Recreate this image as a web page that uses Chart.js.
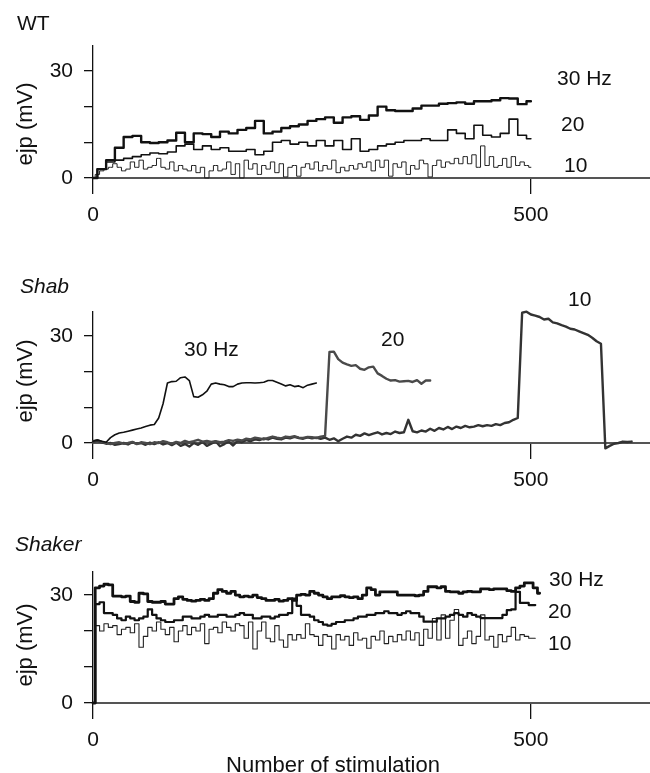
<!DOCTYPE html>
<html>
<head>
<meta charset="utf-8">
<script src="https://cdn.jsdelivr.net/npm/chart.js@4.4.0/dist/chart.umd.min.js"></script>
<style>
  body { margin: 0; background: #fff; width: 650px; height: 773px; position: relative; overflow: hidden;
         font-family: "Liberation Sans", Arial, sans-serif; color: #111; }
  canvas { position: absolute; left: 0; }
  .lbl { position: absolute; font-size: 21px; line-height: 1; white-space: nowrap; transform: translateY(-50%); }
  .it { font-style: italic; }
  .ytitle { position: absolute; font-size: 22px; line-height: 1; white-space: nowrap;
            transform: translate(-50%, -50%) rotate(-90deg); }
  .xtitle { position: absolute; font-size: 22px; line-height: 1; white-space: nowrap; transform: translate(-50%, -50%); }
</style>
</head>
<body>
<canvas id="wt-chart" style="top:16px"></canvas>
<canvas id="shab-chart" style="top:282px"></canvas>
<canvas id="shaker-chart" style="top:542px"></canvas>

<div class="lbl" style="left:17px;top:22px">WT</div>
<div class="lbl it" style="left:20px;top:285px">Shab</div>
<div class="lbl it" style="left:15px;top:543px">Shaker</div>

<div class="ytitle" style="left:25px;top:124px">ejp (mV)</div>
<div class="ytitle" style="left:25px;top:381px">ejp (mV)</div>
<div class="ytitle" style="left:25px;top:645px">ejp (mV)</div>
<div class="xtitle" style="left:333px;top:765px">Number of stimulation</div>

<div class="lbl" style="left:557px;top:77px">30 Hz</div>
<div class="lbl" style="left:561px;top:123px">20</div>
<div class="lbl" style="left:564px;top:164px">10</div>

<div class="lbl" style="left:184px;top:348px">30 Hz</div>
<div class="lbl" style="left:381px;top:338px">20</div>
<div class="lbl" style="left:568px;top:298px">10</div>

<div class="lbl" style="left:549px;top:578px">30 Hz</div>
<div class="lbl" style="left:548px;top:610px">20</div>
<div class="lbl" style="left:548px;top:642px">10</div>

<script>
// --- Axis settings ---
const X_MAX = 636;
const X_TICKS = [0, 500];
const Y_TICKS = [0, 10, 20, 30];
const Y_LABELED = [0, 30];
const FINE_STEP = 5;     // stimulations between samples
const COARSE_STEP = 10;

// --- Layout (px) ---
const TOP_PAD = 30;
const Y_AXIS_WIDTH = 93;
const X_AXIS_HEIGHT = 50;

// --- WT traces (ejp, mV) ---
const WT_30HZ = [0,2.5,5,8.5,11.5,11.8,10,9.8,10,10.5,12.7,
  10,12.5,12.3,11.5,13,12.5,13.5,14,16,12.5,
  13,14,14.5,15,16,16.5,17,15.5,17,17.3,
  16.3,17.5,20,19,18.8,18.8,19.5,20.3,20.3,20.8,
  21,21.2,20.8,21.5,21.5,21.8,22.4,22.3,20.7,21.5];
const WT_20HZ = [0,2.5,4.5,5,5.5,6,6.5,7,6.8,7.3,9,
  9.5,8,9,8,8.5,7.5,7.5,8,6.5,7.5,
  10,10.5,9.5,10,9,10.5,9,10.5,8,11,
  7.5,8,9,9.5,10,10.5,10.5,11,10.5,10.5,
  13.5,12.5,11,14.8,12,11.5,12.5,16.5,12,11];
const WT_10HZ = [0,1,2,2.5,3,4,3,2,2.5,4.5,
  3,5,2.5,3,3.5,5.5,3,2.5,4.5,2,
  3.5,2.5,2,3.5,1.5,3,0,2,3.5,2,
  2.5,4.5,1,4,0,5,2.5,4,1,3.5,
  2.5,4.5,1.5,4,0.3,3,3.5,0.5,3,4,
  2.5,4.5,2,3.5,2.5,5,1.5,3,2,3.5,
  2.5,4,3,4.5,2,5,3,5,0.5,4,
  3,4.5,1,3.5,2.5,5,4,0.3,3.5,5,
  3,4.5,4,5.5,4,6,4,6.5,3,9,
  3.5,6,3,3.5,5.5,3,6,3.5,4.5,3.5,
  3];

// --- Shab traces ---
const SHAB_30HZ = [0.5,0.8,0.5,0.2,1.5,2.3,2.8,3.0,3.3,3.6,3.9,
  4.2,4.6,5.0,5.2,7.0,11.0,16.8,17.2,17.3,18.3,
  18.5,17.5,13.0,12.8,13.5,14.5,16.5,16.8,16.5,16.3,
  15.8,15.8,16.5,16.8,16.9,16.9,16.8,16.9,17.0,17.5,
  17.5,17.0,16.5,16.0,16.3,15.8,16.0,15.5,16.2,16.5,
  16.8];
const SHAB_20HZ = [0.5,0.8,0.3,0,-0.3,0,0.2,-0.2,0,0.3,
  -0.3,0.2,0,-0.3,0.2,0,0.5,0.2,-0.2,0.3,
  0,0.6,0.2,0.5,0.9,0.4,0.6,0.3,0.5,0.2,
  0.4,0.8,0.6,0.9,0.7,1.2,1.0,1.5,1.3,1.0,
  1.4,1.8,1.5,1.3,1.8,1.6,1.9,1.5,1.4,1.7,
  1.6,1.4,1.8,2.0,25.5,25.6,23.5,22.5,22.0,21.6,
  21.8,20.8,20.5,21.2,21.4,19.5,18.8,18.0,17.5,17.6,
  17.2,17.3,17.4,17.1,17.6,16.6,17.5,17.5];
const SHAB_10HZ = [0.3,0.6,0.2,-0.2,0,-0.5,-0.3,0,-0.4,0.2,
  -0.2,0,-0.5,0.1,-0.3,0.2,-0.4,0,-0.6,0.1,
  -0.8,-0.3,-1.0,0,-0.5,0.3,-0.8,-0.2,0.5,-0.9,
  -0.3,0.4,-0.7,0.6,0.2,0.8,0.5,1.0,0.8,1.3,
  1.0,1.5,1.2,1.0,1.5,1.3,1.7,1.4,1.2,1.6,
  1.3,1.5,1.2,1.5,0.9,1.3,0.5,1.2,1.8,1.5,
  2.3,2.0,2.7,2.2,2.6,3.0,2.4,2.8,2.5,3.2,
  2.8,3.0,6.5,3.3,3.0,3.5,3.2,4.0,3.4,4.2,
  3.8,4.5,3.9,4.6,4.2,4.8,4.4,4.6,5.0,4.7,
  5.0,4.8,5.3,5.0,5.6,5.8,6.5,7.0,36.5,36.8,
  36.0,35.7,35.3,34.6,34.8,33.8,33.5,33.0,32.6,32.0,
  31.8,31.3,30.8,30.3,29.5,28.5,27.8,-1.5,-0.8,-0.2,
  0,0.4,0.3,0.4];

// --- Shaker traces ---
const SHAKER_30HZ = [0,32,32.5,33,32.8,29.7,29.7,29.5,29.7,28.2,
  28,30.5,30.3,28.2,28,28,28.2,27.5,27.5,29,
  29.5,28.8,28.5,28.3,28.5,28.8,28.5,29,30.5,31.5,
  31,30.5,31,30,29.5,29.7,29.5,30,29.3,29,
  28.5,28.5,28.8,28.3,28.5,29,28.5,30,30.2,30,
  31,30.5,30,29.5,29,29.5,29.5,29.8,29.5,29.3,
  29.5,29,30,32,31.5,30,30.9,30.9,30.9,30.9,
  30,30,30,30,29.8,30,31,32.3,32.3,32,
  32.3,31,30.9,30.9,30.5,30.9,31,30.9,30.9,31.7,
  31.7,31.5,31.7,31.7,31.7,31.2,31,32,32.5,33.4,
  33.4,32,30.5];
const SHAKER_20HZ = [0,27.5,28,25,25,24.5,23.5,23,24,23.5,
  23,23.5,24,26,24.5,23.5,23,22.5,22.5,23,
  23,24,24,23.5,23.5,24,24.5,24,24,24.5,
  24.5,24,24,24.5,25,24.5,24.5,23.5,23.5,24,
  24,23.5,24,24.5,24.5,25,29,27,24.5,24.5,
  24,23,22.5,21.8,21.5,22,22.5,22.5,23,23,
  23.5,24,24,24.5,24.5,25,25,25.5,25,25,
  24.5,25,25.5,25,25,24,22.6,22.6,22.6,23.5,
  23.5,24,24.5,25,24.5,24,25,24.5,24,23.6,
  23.6,23.6,23.6,23.6,24.5,25.8,26,30.9,27.8,27.8,
  27.2,27.2];
const SHAKER_10HZ = [0,21.5,20,22,21,21.5,19,20.5,21,19.5,
  22,15.5,18.5,21,20,22.5,20.5,19,21,17,
  20,21.5,19,21,20,22,16.5,20.5,21,19.5,
  22.5,21,20,22,21.5,18,22.5,15,20,22.5,
  18,17,21.5,17.5,15.5,19,17.5,19,18,22,
  19,18.5,16,19,18.5,15,19,17.5,18.5,16,
  19.5,17.5,18,15.2,18.5,17.5,20,16.5,18.5,17,
  19,17.5,20,17.5,19.5,16,20.5,18,23.5,17.5,
  24.5,18,23,26,16,18,20,16.5,18.5,24.5,
  17.5,18.5,15.5,19,17,18.5,21,17.5,19,18.5,
  18,18];

// --- Chart helpers ---
function toPoints(values, step) {
    return values.map((v, i) => ({ x: i * step, y: v }));
}

function makePanel(canvasId, yMax, plotHeight, traces) {
    const canvas = document.getElementById(canvasId);
    canvas.width = 650;
    canvas.height = TOP_PAD + plotHeight + X_AXIS_HEIGHT;
    const tickFont = { family: '"Liberation Sans", Arial, sans-serif', size: 21 };

    new Chart(canvas.getContext('2d'), {
        type: 'line',
        data: {
            datasets: traces.map(t => ({
                data: toPoints(t.values, t.step),
                borderColor: t.color,
                borderWidth: t.width,
                stepped: t.stepped,
                pointRadius: 0,
                tension: 0,
                clip: false,
                borderJoinStyle: 'round',
                borderCapStyle: 'round'
            }))
        },
        options: {
            responsive: false,
            animation: false,
            devicePixelRatio: 1,
            layout: { padding: { top: TOP_PAD, right: 0, bottom: 0, left: 0 } },
            plugins: { legend: { display: false }, tooltip: { enabled: false } },
            scales: {
                x: {
                    type: 'linear', min: 0, max: X_MAX,
                    afterBuildTicks: s => { s.ticks = X_TICKS.map(v => ({ value: v })); },
                    afterFit: s => { s.height = X_AXIS_HEIGHT; },
                    grid: { drawOnChartArea: false, drawTicks: true, tickLength: 16, color: '#111', lineWidth: 1.3 },
                    border: { display: true, color: '#555', width: 2 },
                    ticks: { font: tickFont, color: '#111', padding: 9, maxRotation: 0, autoSkip: false }
                },
                y: {
                    type: 'linear', min: 0, max: yMax,
                    afterBuildTicks: s => { s.ticks = Y_TICKS.map(v => ({ value: v })); },
                    afterFit: s => { s.width = Y_AXIS_WIDTH; },
                    grid: { drawOnChartArea: false, drawTicks: true, tickLength: 9, color: '#111', lineWidth: 1.3 },
                    border: { display: true, color: '#111', width: 1.3 },
                    ticks: {
                        font: tickFont, color: '#111', padding: 11, autoSkip: false,
                        callback: v => Y_LABELED.includes(v) ? String(v) : ''
                    }
                }
            }
        }
    });
}

// --- Panels ---
makePanel('wt-chart', 37, 132, [
    { values: WT_30HZ, step: COARSE_STEP, color: '#111', width: 2.4, stepped: 'middle' },
    { values: WT_20HZ, step: COARSE_STEP, color: '#111', width: 1.6, stepped: 'middle' },
    { values: WT_10HZ, step: FINE_STEP, color: '#222', width: 1, stepped: 'middle' }
]);

makePanel('shab-chart', 36.7, 131, [
    { values: SHAB_30HZ, step: FINE_STEP, color: '#111', width: 1.6, stepped: false },
    { values: SHAB_20HZ, step: FINE_STEP, color: '#4a4a4a', width: 2.4, stepped: false },
    { values: SHAB_10HZ, step: FINE_STEP, color: '#333', width: 2.4, stepped: false }
]);

makePanel('shaker-chart', 36.4, 131, [
    { values: SHAKER_30HZ, step: FINE_STEP, color: '#111', width: 2.8, stepped: 'middle' },
    { values: SHAKER_20HZ, step: FINE_STEP, color: '#111', width: 2.2, stepped: 'middle' },
    { values: SHAKER_10HZ, step: FINE_STEP, color: '#222', width: 1.1, stepped: 'middle' }
]);
</script>
</body>
</html>
